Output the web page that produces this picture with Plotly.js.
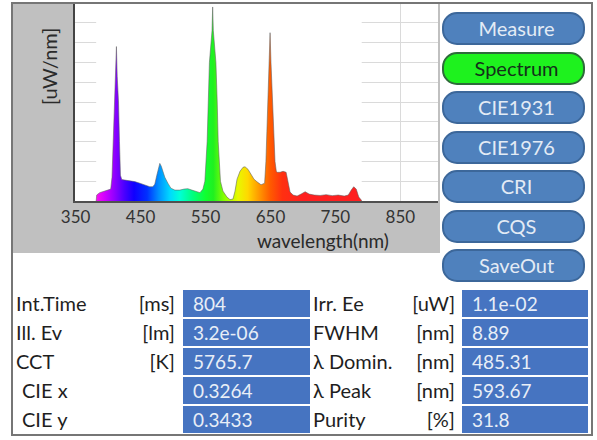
<!DOCTYPE html>
<html>
<head>
<meta charset="utf-8">
<script src="https://cdn.plot.ly/plotly-3.0.1.min.js"></script>
<style>
  html, body { margin:0; padding:0; background:#ffffff; }
  #root { position:relative; width:597px; height:440px; overflow:hidden; font-family: Lato, "Open Sans", sans-serif; }
  #chart { position:absolute; left:12px; top:3px; width:428px; height:250px; }
  .btn { position:absolute; left:442px; width:143px; height:33px; box-sizing:border-box;
         border:2px solid #3c679a; border-radius:15px; background:#4f81bd; color:#e3ebf5;
         font-size:20px; line-height:29px; text-align:center; padding-left:6px; }
  .btn.active { background:#1ef21e; border-color:#2e6b3a; color:#14301a; }
  .box { position:absolute; height:27px; background:#4674c1; color:#e8eef7; font-size:19px;
         line-height:27px; box-sizing:border-box; padding-left:10px; }
  .lab { position:absolute; height:27px; line-height:27px; font-size:20px; color:#1e1e1e; white-space:nowrap; }
  .unit { position:absolute; height:27px; line-height:27px; font-size:20px; color:#1e1e1e; white-space:nowrap; text-align:right; }
  #frame { position:absolute; left:11px; top:2px; width:582px; height:434px; box-sizing:border-box;
           border:2px solid #767676; pointer-events:none; }
</style>
</head>
<body>
<div id="root">
  <div id="chart"></div>
  <div id="ui"></div>
  <div id="frame"></div>
</div>
<script>
// ---------------- data ----------------
const wavelength = [381.6, 382.4, 387.0, 393.2, 399.4, 404.0, 406.0, 408.0, 409.5, 411.5, 412.8, 414.0, 416.0,
  417.5, 419.0, 421.0, 427.2, 433.3, 441.0, 448.8, 456.5, 464.2, 468.8, 471.9, 475.0, 477.3, 479.6, 481.9,
  484.3, 487.3, 492.0, 496.6, 502.8, 510.5, 516.7, 522.8, 529.0, 535.2, 541.4, 546.0, 549.0, 552.5, 554.0,
  556.0, 560.0, 561.0, 562.0, 566.0, 568.0, 569.5, 573.0, 576.8, 583.0, 587.7, 592.3, 595.4, 598.5, 603.1,
  607.7, 610.8, 615.4, 620.1, 624.7, 629.3, 635.5, 641.0, 643.0, 644.5, 646.0, 648.0, 649.4, 650.8, 653.0,
  655.0, 657.0, 659.0, 660.2, 664.8, 669.4, 674.1, 677.2, 680.2, 684.9, 691.0, 697.2, 703.4, 709.6, 717.3,
  726.5, 735.8, 745.1, 754.3, 763.6, 769.8, 774.4, 778.2, 782.1, 786.0, 789.8, 790.5];
const intensity = [0, 0.30, 0.42, 0.50, 0.55, 0.60, 1.2, 3.0, 5.0, 6.3, 7.8, 6.3, 5.0,
  3.0, 1.3, 1.08, 1.06, 1.03, 0.98, 0.90, 0.80, 0.72, 0.72, 0.85, 1.30, 1.70, 1.90, 1.75,
  1.50, 1.20, 0.90, 0.65, 0.55, 0.55, 0.60, 0.62, 0.55, 0.48, 0.42, 0.60, 1.0, 3.0, 5.0,
  7.0, 8.6, 9.8, 8.6, 7.0, 5.0, 3.0, 1.0, 0.50, 0.20, 0.07, 0.10, 0.50, 1.10, 1.50,
  1.70, 1.73, 1.60, 1.35, 1.10, 0.97, 0.82, 0.90, 2.0, 3.5, 5.2, 7.0, 8.5, 7.0, 5.0,
  3.2, 2.0, 1.5, 1.45, 1.45, 1.50, 1.45, 1.0, 0.45, 0.30, 0.25, 0.35, 0.47, 0.35, 0.30,
  0.28, 0.32, 0.27, 0.30, 0.25, 0.30, 0.55, 0.72, 0.60, 0.20, 0.05, 0];
const xTickVals = [350, 450, 550, 650, 750, 850];
const xTickText = ["350", "450", "550", "650", "750", "850"];
const xTitle = "wavelength(nm)";
const yTitle = "[uW/nm]";

// colour of the light at each wavelength
const gradWavelengths = [380, 395, 410, 425, 440, 460, 478, 495, 510, 530, 550, 562, 580, 600, 615, 632, 650, 668, 700, 790];
const gradColors = ["#ff10f0", "#d000ff", "#9000ff", "#4a00ff", "#1000ff", "#0030ff", "#0090ff", "#00d8ff", "#00ffd8",
  "#00ff80", "#10ff30", "#20f020", "#90ff00", "#e8f800", "#ffd800", "#ff9a00", "#ff5a00", "#ff3010", "#ff2020", "#ff2020"];

const buttonLabels = ["Measure", "Spectrum", "CIE1931", "CIE1976", "CRI", "CQS", "SaveOut"];
const activeButton = "Spectrum";

const leftLabels = ["Int.Time", "Ill. Ev", "CCT", " CIE x", " CIE y"];
const leftUnits = ["[ms]", "[lm]", "[K]", "", ""];
const leftValues = ["804", "3.2e-06", "5765.7", "0.3264", "0.3433"];
const rightLabels = ["Irr. Ee", "FWHM", "λ Domin.", "λ Peak", "Purity"];
const rightUnits = ["[uW]", "[nm]", "[nm]", "[nm]", "[%]"];
const rightValues = ["1.1e-02", "8.89", "485.31", "593.67", "31.8"];

// ---------------- chart ----------------
const yMax = 10;
const lo = wavelength[0], hi = wavelength[wavelength.length - 1];
const gStart = gradWavelengths[0], gStop = gradWavelengths[gradWavelengths.length - 1];
const colorscale = gradWavelengths.map((w, i) => [(w - gStart) / (gStop - gStart), gradColors[i]]);

const cover = {
  x: [lo, lo, hi, hi], y: [0, yMax, yMax, 0],
  type: 'scatter', mode: 'lines', fill: 'toself', fillcolor: '#ffffff',
  line: {width: 0, color: '#ffffff'}, hoverinfo: 'skip', showlegend: false
};
const spectrum = {
  x: wavelength, y: intensity, type: 'scatter', mode: 'lines', fill: 'tozeroy',
  fillgradient: {type: 'horizontal', start: gStart, stop: gStop, colorscale: colorscale},
  line: {color: 'rgba(95,95,95,0.55)', width: 1}, showlegend: false
};

const layout = {
  width: 428, height: 250,
  margin: {l: 63, r: 2, t: 0, b: 52},
  paper_bgcolor: '#c0c0c0', plot_bgcolor: '#ffffff',
  font: {family: 'Lato, "Open Sans", sans-serif', color: '#333333'},
  showlegend: false,
  xaxis: {
    range: [349, 908], tickvals: xTickVals, ticktext: xTickText, ticks: '',
    tickfont: {size: 17, color: '#333333'},
    showgrid: true, gridcolor: '#dadada', gridwidth: 1, zeroline: false,
    showline: true, linecolor: '#505050', linewidth: 2
  },
  yaxis: {
    range: [0, yMax], dtick: 1, tick0: 0, showticklabels: false, ticks: '',
    showgrid: true, gridcolor: '#dadada', gridwidth: 1, zeroline: false,
    showline: true, linecolor: '#444444', linewidth: 2
  },
  annotations: [
    {text: xTitle, xref: 'paper', yref: 'paper', x: 0.683, y: -0.197, xanchor: 'center', yanchor: 'middle',
     showarrow: false, font: {size: 19, color: '#2a2a2a'}},
    {text: yTitle, xref: 'paper', yref: 'paper', x: -0.07, y: 0.68, xanchor: 'center', yanchor: 'middle',
     textangle: -90, showarrow: false, font: {size: 20, color: '#2a2a2a'}}
  ]
};

Plotly.newPlot('chart', [cover, spectrum], layout, {staticPlot: true, displayModeBar: false});

// ---------------- side buttons & table ----------------
const ui = document.getElementById('ui');
function el(cls, text, css) {
  const d = document.createElement('div');
  d.className = cls; d.textContent = text;
  Object.assign(d.style, css); ui.appendChild(d); return d;
}
buttonLabels.forEach((b, i) => {
  el('btn' + (b === activeButton ? ' active' : ''), b, {top: (12 + i * 39.5) + 'px'});
});
leftLabels.forEach((t, i) => {
  const top = (290 + i * 29) + 'px';
  const indent = t.startsWith(' ') ? 22 : 16;
  el('lab', t.trim(), {top, left: indent + 'px'});
  if (leftUnits[i]) el('unit', leftUnits[i], {top, left: '120px', width: '55px'});
  el('box', leftValues[i], {top, left: '183px', width: '127px'});
});
rightLabels.forEach((t, i) => {
  const top = (290 + i * 29) + 'px';
  el('lab', t, {top, left: '313px'});
  el('unit', rightUnits[i], {top, left: '395px', width: '60px'});
  el('box', rightValues[i], {top, left: '462px', width: '126px'});
});
</script>
</body>
</html>
